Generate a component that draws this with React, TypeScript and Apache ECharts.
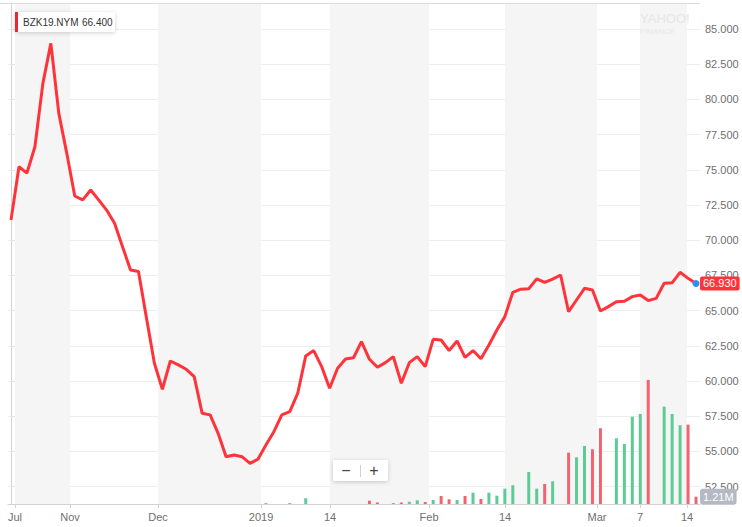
import React, { useEffect, useRef } from 'react';
import * as echarts from 'echarts';

// Daily settle prices (category index = trading session)
const prices = [
  71.43, 75.22, 74.77, 76.64, 81.14, 83.98, 79.01, 76.17, 73.14, 72.86,
  73.57, 72.86, 72.14, 71.2, 69.54, 67.88, 67.77, 64.5, 61.26, 59.41,
  61.42, 61.14, 60.83, 60.31, 57.7, 57.59, 56.28, 54.62, 54.74, 54.62,
  54.15, 54.44, 55.45, 56.4, 57.59, 57.82, 59.13, 61.78, 62.16, 61.02,
  59.48, 60.9, 61.56, 61.65, 62.8, 61.54, 60.97, 61.3, 61.73, 59.84,
  61.3, 61.73, 61.02, 62.96, 62.91, 62.16, 62.84, 61.68, 62.16, 61.58,
  62.56, 63.62, 64.57, 66.3, 66.52, 66.55, 67.25, 67.0, 67.24, 67.53,
  64.92, 65.75, 66.58, 66.46, 64.97, 65.28, 65.63, 65.66, 65.99, 66.11,
  65.71, 65.87, 66.94, 66.97, 67.72, 67.29, 66.93,
];

// Volume in millions
const volumes = [
  0, 0, 0, 0, 0, 0, 0, 0, 0, 0,
  0, 0, 0, 0, 0, 0, 0, 0, 0, 0,
  0, 0, 0, 0, 0, 0, 0, 0, 0, 0,
  0, 0, 0.15, 0, 0, 0.15, 0, 0.95, 0, 0,
  0, 0, 0, 0, 0, 0.55, 0.25, 0, 0.17, 0.25,
  0.38, 0.61, 0.33, 0.66, 1.33, 0.78, 0.66, 1.33, 1.87, 0.83,
  1.87, 1.38, 2.54, 3.1, 0, 5.31, 2.54, 3.32, 3.76, 0,
  8.51, 7.74, 9.62, 9.07, 12.55, 0, 10.89, 9.95, 14.47, 14.92,
  20.56, 0, 16.13, 14.92, 13.05, 13.15, 1.21,
];

const xTickPos = [0.5, 7.41, 18.46, 31.39, 40.05, 52.48, 62.02, 73.57, 78.97, 84.87];
const xTickLabels = ['Jul', 'Nov', 'Dec', '2019', '14', 'Feb', '14', 'Mar', '7', '14'];
const yTicks = [52.5, 55, 57.5, 60, 62.5, 65, 67.5, 70, 72.5, 75, 77.5, 80, 82.5, 85];

const symbolName = 'BZK19.NYM';
const legendValue = '66.400';
const lastPrice = 66.93;
const lastVolume = 1.21;

const LINE = '#ff333a';
const GREEN = '#5ccb95';
const RED = '#f2636f';
const FONT = '"Liberation Sans", Arial, sans-serif';

export default function App() {
  const ref = useRef<HTMLDivElement>(null);

  useEffect(() => {
    const chart = echarts.init(ref.current!, null, { renderer: 'svg' });
    const lineData = prices.map((v, i) => [i, v]);
    const volData = volumes.map((v, i) => ({
      value: [i, v],
      itemStyle: { color: i === 0 || prices[i] >= prices[i - 1] ? GREEN : RED },
    }));

    const nearestLabel = (v: number) => {
      let best = 0;
      for (let i = 1; i < xTickPos.length; i++) {
        if (Math.abs(xTickPos[i] - v) < Math.abs(xTickPos[best] - v)) best = i;
      }
      return xTickLabels[best];
    };

    chart.setOption({
      animation: false,
      textStyle: { fontFamily: FONT },
      grid: { left: 8, right: 42, top: 3, bottom: 23 },
      xAxis: {
        type: 'value',
        min: -0.38,
        max: 86.5,
        axisLine: { show: true, onZero: false, lineStyle: { color: '#d2d2d2' } },
        axisTick: { show: true, customValues: xTickPos, length: 4, lineStyle: { color: '#d2d2d2' } },
        axisLabel: {
          customValues: xTickPos,
          formatter: (v: number) => nearestLabel(v),
          color: '#6f6f6f',
          fontSize: 11,
          margin: 7,
          fontFamily: FONT,
        },
        splitLine: { show: false },
        splitArea: { show: true, areaStyle: { color: ['#f5f5f5', 'rgba(255,255,255,0)'] } },
      },
      yAxis: [
        {
          type: 'value',
          position: 'right',
          min: 51.26,
          max: 86.85,
          axisLine: { show: true, lineStyle: { color: '#d2d2d2' } },
          axisTick: { show: true, customValues: yTicks, length: 4, lineStyle: { color: '#e2e2e2' } },
          axisLabel: {
            customValues: yTicks,
            formatter: (v: number) => v.toFixed(3),
            color: '#6f6f6f',
            fontSize: 11,
            margin: 5,
            fontFamily: FONT,
          },
          splitLine: { show: true, lineStyle: { color: '#ededed' } },
        },
        { type: 'value', min: 0, max: 83, show: false },
      ],
      series: [
        {
          type: 'bar',
          xAxisIndex: 0,
          yAxisIndex: 1,
          barWidth: 3,
          data: volData,
          z: 2,
          markLine: {
            silent: true,
            symbol: 'none',
            data: [{ yAxis: lastVolume }],
            lineStyle: { width: 0, color: 'rgba(0,0,0,0)' },
            label: {
              position: 'end',
              distance: 0,
              formatter: lastVolume.toFixed(2) + 'M',
              backgroundColor: '#b4b9c3',
              color: '#ffffff',
              fontSize: 11,
              padding: [3, 3, 2, 3],
              borderRadius: 3,
              fontFamily: FONT,
            },
          },
        },
        {
          type: 'line',
          yAxisIndex: 0,
          data: lineData,
          symbol: 'none',
          z: 3,
          lineStyle: { color: LINE, width: 3 },
          itemStyle: { color: LINE },
          markPoint: {
            silent: true,
            data: [
              {
                coord: [prices.length - 1, lastPrice],
                symbol: 'circle',
                symbolSize: 7,
                itemStyle: { color: '#2d8ff0' },
                label: { show: false },
              },
            ],
          },
          markLine: {
            silent: true,
            symbol: 'none',
            data: [{ yAxis: lastPrice }],
            lineStyle: { width: 0, color: 'rgba(0,0,0,0)' },
            label: {
              position: 'end',
              distance: 0,
              formatter: lastPrice.toFixed(3),
              backgroundColor: LINE,
              color: '#ffffff',
              fontSize: 11,
              padding: [2, 3, 1, 3],
              borderRadius: 2,
              fontFamily: FONT,
            },
          },
        },
      ],
      graphic: [
        {
          type: 'line',
          z: 10,
          shape: { x1: 0, y1: 3.5, x2: 700, y2: 3.5 },
          style: { stroke: '#dcdcdc', lineWidth: 1 },
          silent: true,
        },
        {
          type: 'group',
          left: 640,
          top: 12,
          z: 5,
          silent: true,
          children: [
            { type: 'text', z: 5, x: 0, y: 0, style: { text: 'YAHOO!', fill: '#e6e6e6', font: '13px ' + FONT } },
            { type: 'text', z: 5, x: 0, y: 15, style: { text: 'FINANCE', fill: '#e8e8e8', font: '8px ' + FONT } },
          ],
        },
        {
          type: 'group',
          left: 15,
          top: 12,
          z: 100,
          silent: true,
          children: [
            {
              type: 'rect',
              z: 100,
              shape: { x: 0, y: 0, width: 100, height: 20, r: 2 },
              style: { fill: '#ffffff', shadowBlur: 4, shadowColor: 'rgba(0,0,0,0.18)', shadowOffsetY: 1 },
            },
            { type: 'rect', z: 101, shape: { x: 0, y: 0, width: 3, height: 20 }, style: { fill: '#e8283a' } },
            {
              type: 'text',
              z: 101,
              x: 8,
              y: 10,
              style: { text: symbolName, fill: '#333333', font: '10px ' + FONT, verticalAlign: 'middle' },
            },
            {
              type: 'text',
              z: 101,
              x: 67,
              y: 10,
              style: { text: legendValue, fill: '#333333', font: '10px ' + FONT, verticalAlign: 'middle' },
            },
          ],
        },
        {
          type: 'group',
          left: 333,
          top: 460,
          z: 100,
          silent: true,
          children: [
            {
              type: 'rect',
              z: 100,
              shape: { x: 0, y: 0, width: 55, height: 21, r: 2 },
              style: { fill: '#ffffff', shadowBlur: 4, shadowColor: 'rgba(0,0,0,0.2)', shadowOffsetY: 1 },
            },
            {
              type: 'text',
              z: 101,
              x: 13,
              y: 10.5,
              style: { text: '−', fill: '#444444', font: '16px ' + FONT, align: 'center', verticalAlign: 'middle' },
            },
            {
              type: 'line',
              z: 101,
              shape: { x1: 27.5, y1: 5, x2: 27.5, y2: 17 },
              style: { stroke: '#d0d0d0', lineWidth: 1 },
            },
            {
              type: 'text',
              z: 101,
              x: 41,
              y: 10.5,
              style: { text: '+', fill: '#444444', font: '16px ' + FONT, align: 'center', verticalAlign: 'middle' },
            },
          ],
        },
      ],
    });

    return () => chart.dispose();
  }, []);

  return (
    <div
      ref={ref}
      style={{ position: 'fixed', left: 0, top: 0, width: 742, height: 527, background: '#ffffff' }}
    />
  );
}
